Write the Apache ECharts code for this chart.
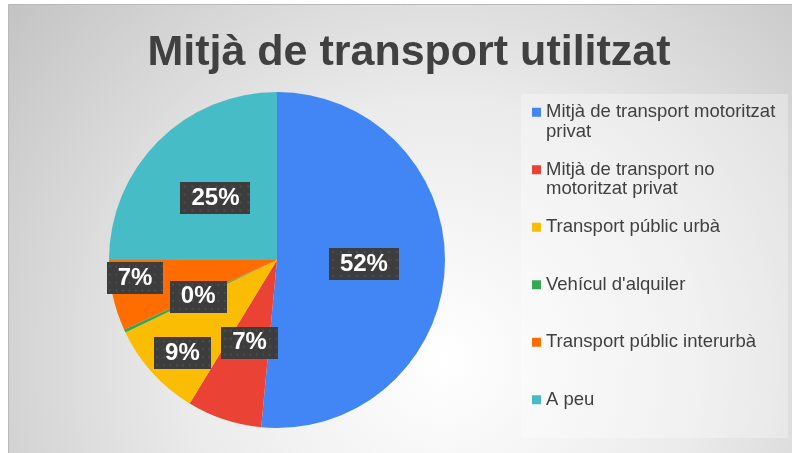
<!DOCTYPE html>
<html>
<head>
<meta charset="utf-8">
<script src="https://cdn.jsdelivr.net/npm/echarts@6/dist/echarts.min.js"></script>
<style>
  html, body { margin: 0; padding: 0; background: #ffffff; }
  #main { width: 792px; height: 453px; }
</style>
</head>
<body>
<div id="main"></div>
<script>
const categories = [
  'Mitjà de transport motoritzat privat',
  'Mitjà de transport no motoritzat privat',
  'Transport públic urbà',
  "Vehícul d'alquiler",
  'Transport públic interurbà',
  'A peu'
];
// share of each transport mode, in %
const shares = [51.5, 7.2, 9.2, 0.3, 6.8, 25.0];
const colors = ['#4285F4', '#EA4335', '#FBBC04', '#34A853', '#FF6D01', '#46BDC6'];

// legend text as Excel wraps it
const legendText = {
  'Mitjà de transport motoritzat privat': 'Mitjà de transport motoritzat\nprivat',
  'Mitjà de transport no motoritzat privat': 'Mitjà de transport no\nmotoritzat privat'
};

// dark dotted box behind the data labels
function dotBox() {
  const c = document.createElement('canvas');
  c.width = 70;
  c.height = 32;
  const ctx = c.getContext('2d');
  ctx.fillStyle = '#3d3d3d';
  ctx.fillRect(0, 0, 70, 32);
  ctx.fillStyle = '#4f4f4f';
  for (let y = 3; y < 32; y += 8) {
    for (let x = 3; x < 70; x += 8) {
      ctx.fillRect(x, y, 2, 2);
    }
  }
  return c;
}

// labels Excel pushed away from the slice centre
const labelShift = { 2: [-30, 35], 4: [-57, 0] };

var chartDom = document.getElementById('main');
var myChart = echarts.init(chartDom, null, { renderer: 'canvas' });
var option;

option = {
  animation: false,
  graphic: [
    {
      type: 'rect',
      z: -10,
      shape: { x: 8.5, y: 4.5, width: 790, height: 455 },
      style: {
        fill: {
          type: 'radial', x: 0.55, y: 0.78, r: 1.25,
          colorStops: [
            { offset: 0, color: '#ffffff' },
            { offset: 0.45, color: '#ebebeb' },
            { offset: 1, color: '#c2c2c2' }
          ]
        },
        stroke: '#b9b9b9',
        lineWidth: 1
      }
    },
    {
      type: 'rect',
      z: -9,
      shape: { x: 521, y: 94, width: 267, height: 344 },
      style: { fill: 'rgba(255,255,255,0.3)' }
    }
  ],
  title: {
    text: 'Mitjà de transport utilitzat',
    left: 404,
    top: 27,
    textAlign: 'center',
    textStyle: {
      fontFamily: 'Liberation Sans, Arial, sans-serif',
      fontSize: 43,
      fontWeight: 'bold',
      color: '#404040'
    }
  },
  legend: {
    orient: 'vertical',
    left: 532,
    top: 83,
    padding: 0,
    itemWidth: 9,
    itemHeight: 9,
    itemGap: -1,
    icon: 'rect',
    selectedMode: false,
    data: categories,
    // every entry is three lines tall, the first text line sits on the icon
    formatter: function (name) {
      return legendText[name] ? ' \n' + legendText[name] : ' \n' + name + '\n ';
    },
    textStyle: {
      fontFamily: 'Liberation Sans, Arial, sans-serif',
      fontSize: 18.5,
      lineHeight: 19.5,
      color: '#404040'
    }
  },
  series: [
    {
      type: 'pie',
      center: [277, 260],
      radius: 168,
      startAngle: 90,
      clockwise: true,
      avoidLabelOverlap: false,
      emphasis: { disabled: true },
      itemStyle: { borderWidth: 0 },
      label: {
        show: true,
        position: 'inside',
        formatter: function (p) {
          return Math.round(p.percent) + '%';
        },
        fontFamily: 'Liberation Sans, Arial, sans-serif',
        fontSize: 24,
        fontWeight: 'bold',
        color: '#ffffff',
        lineHeight: 24,
        padding: [4, 11],
        backgroundColor: { image: dotBox() },
        shadowColor: 'rgba(0,0,0,0.5)',
        shadowBlur: 8,
        shadowOffsetX: 3,
        shadowOffsetY: 3
      },
      labelLine: { show: false },
      labelLayout: function (params) {
        const s = labelShift[params.dataIndex];
        if (!s) return {};
        return { dx: s[0], dy: s[1] };
      },
      data: categories.map((name, i) => ({
        name: name,
        value: shares[i],
        itemStyle: { color: colors[i] }
      }))
    }
  ]
};

option && myChart.setOption(option);
</script>
</body>
</html>
